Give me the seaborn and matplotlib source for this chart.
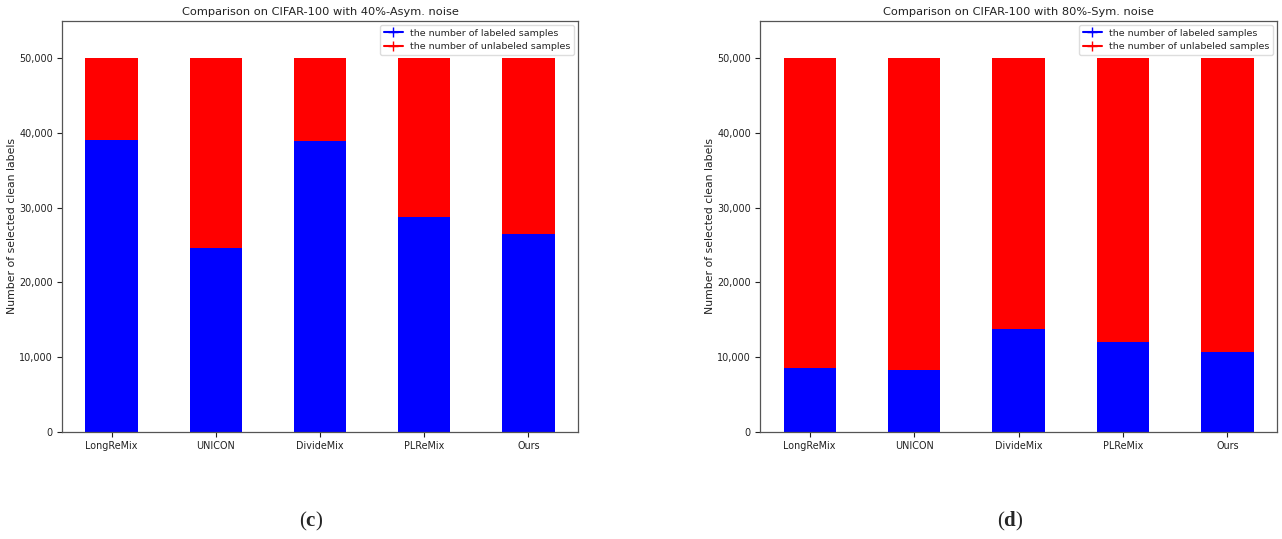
import matplotlib
matplotlib.use("Agg")
import matplotlib.pyplot as plt
from matplotlib.lines import Line2D
from matplotlib.ticker import FuncFormatter
import seaborn as sns
import pandas as pd

# Methods compared on CIFAR-100
methods = ["LongReMix", "UNICON", "DivideMix", "PLReMix", "Ours"]
total_samples = 50000

# Number of labeled samples selected by each method
labeled_asym40 = [39100, 24600, 38900, 28700, 26500]
labeled_sym80 = [8500, 8200, 13750, 12000, 10700]

titles = ["Comparison on CIFAR-100 with 40%-Asym. noise",
          "Comparison on CIFAR-100 with 80%-Sym. noise"]
panel_tags = ["c", "d"]

sns.set_theme(style="ticks")
plt.rcParams["font.family"] = ["DejaVu Sans"]
plt.rcParams["mathtext.fontset"] = "custom"
plt.rcParams["mathtext.rm"] = "Liberation Serif"
plt.rcParams["mathtext.bf"] = "Liberation Serif:bold"

fig = plt.figure(figsize=(12.82, 5.39), dpi=100)
W, H = 1282, 539
axes = [
    fig.add_axes([62 / W, 1 - 431.5 / H, 516 / W, 410.5 / H]),
    fig.add_axes([760 / W, 1 - 431.5 / H, 517 / W, 410.5 / H]),
]

edge = "#555555"
for ax, labeled, title in zip(axes, [labeled_asym40, labeled_sym80], titles):
    df = pd.DataFrame({
        "method": methods,
        "labeled": labeled,
        "unlabeled": [total_samples - v for v in labeled],
    })
    df["stack_top"] = df["labeled"] + df["unlabeled"]
    # unlabeled part sits on top of the labeled part
    sns.barplot(data=df, x="method", y="stack_top", color="#ff0000",
                saturation=1, width=0.5, ax=ax, linewidth=0)
    sns.barplot(data=df, x="method", y="labeled", color="#0000ff",
                saturation=1, width=0.5, ax=ax, linewidth=0)
    ax.set_xlim(-0.475, 4.475)
    ax.set_ylim(0, 55000)
    ax.set_yticks(range(0, 50001, 10000))
    ax.yaxis.set_major_formatter(FuncFormatter(lambda v, p: f"{int(v):,}"))
    ax.set_xlabel("")
    ax.set_ylabel("Number of selected clean labels", fontsize=7.8,
                  color="#222222", labelpad=1.5)
    ax.set_title(title, fontsize=8.2, pad=4, color="#222222")
    ax.tick_params(axis="both", labelsize=6.9, colors="#222222", length=3.5,
                   width=0.8, pad=3)
    for sp in ax.spines.values():
        sp.set_color(edge)
        sp.set_linewidth(0.9)
    handles = [
        Line2D([], [], color="#0000ff", marker="+", markersize=7, lw=1.5),
        Line2D([], [], color="#ff0000", marker="+", markersize=7, lw=1.5),
    ]
    ax.legend(handles, ["the number of labeled samples",
                        "the number of unlabeled samples"],
              loc="upper right", fontsize=6.8, frameon=True, handlelength=2,
              borderpad=0.4, labelspacing=0.45, edgecolor="#dddddd",
              framealpha=1, borderaxespad=0.4)

fig.text(311 / W, 1 - 521 / H, r"($\mathbf{c}$)", fontsize=15,
         family="Liberation Serif", ha="center", va="center")
fig.text(1010 / W, 1 - 521 / H, r"($\mathbf{d}$)", fontsize=15,
         family="Liberation Serif", ha="center", va="center")

fig.savefig("out.png", dpi=100)
